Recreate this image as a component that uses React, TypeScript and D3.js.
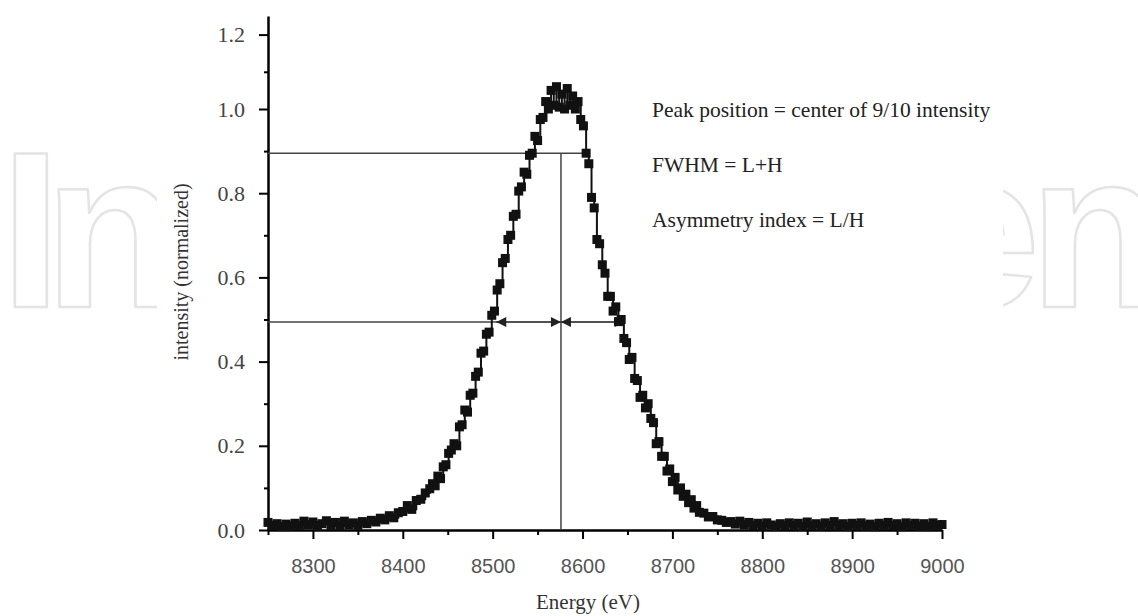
import React, { useEffect, useRef } from "react";
import * as d3 from "d3";

// energy (eV), normalized intensity
const peakData: [number, number][] = [
  [8250, 0.018], [8255, 0.010], [8260, 0.015], [8265, 0.008], [8270, 0.014],
  [8275, 0.009], [8280, 0.016], [8285, 0.011], [8290, 0.021], [8295, 0.012],
  [8300, 0.019], [8305, 0.009], [8310, 0.015], [8315, 0.022], [8320, 0.011],
  [8325, 0.018], [8330, 0.010], [8335, 0.021], [8340, 0.012], [8345, 0.017],
  [8350, 0.011], [8355, 0.020], [8360, 0.015], [8365, 0.023], [8370, 0.019],
  [8375, 0.028], [8380, 0.024], [8385, 0.034], [8390, 0.029], [8395, 0.041],
  [8400, 0.044], [8405, 0.058], [8410, 0.049], [8415, 0.07], [8420, 0.073],
  [8425, 0.088], [8430, 0.098],
  [8433, 0.11], [8436, 0.105], [8439, 0.128], [8442, 0.122], [8445, 0.15],
  [8448, 0.155], [8451, 0.182], [8454, 0.19], [8457, 0.205], [8460, 0.2],
  [8463, 0.245], [8466, 0.25], [8469, 0.285], [8472, 0.28], [8475, 0.32],
  [8478, 0.325], [8481, 0.365], [8484, 0.375], [8487, 0.42], [8490, 0.425],
  [8493, 0.465], [8496, 0.47], [8499, 0.51], [8502, 0.52], [8505, 0.57],
  [8508, 0.585], [8511, 0.635], [8514, 0.645], [8517, 0.69], [8520, 0.7],
  [8523, 0.745], [8526, 0.75], [8529, 0.805], [8532, 0.815], [8535, 0.85],
  [8538, 0.845], [8541, 0.89], [8544, 0.895], [8547, 0.935], [8550, 0.925],
  [8553, 0.975], [8556, 0.98], [8559, 1.02], [8562, 1.0], [8565, 1.05],
  [8568, 1.01], [8571, 1.06], [8574, 1.005], [8577, 1.04], [8580, 1.0],
  [8583, 1.055], [8586, 1.01], [8589, 1.035], [8592, 1.0], [8595, 1.02],
  [8598, 0.975], [8601, 0.96], [8604, 0.895], [8607, 0.87], [8610, 0.79],
  [8613, 0.765], [8616, 0.69], [8619, 0.68], [8622, 0.63], [8625, 0.61],
  [8628, 0.555], [8631, 0.555], [8634, 0.52], [8637, 0.53], [8640, 0.495],
  [8643, 0.5], [8646, 0.455], [8649, 0.445], [8652, 0.405], [8655, 0.41],
  [8658, 0.36], [8661, 0.355], [8664, 0.315], [8667, 0.32], [8670, 0.29],
  [8673, 0.3], [8676, 0.265], [8679, 0.255], [8682, 0.205], [8685, 0.21],
  [8688, 0.175], [8691, 0.175], [8694, 0.14], [8697, 0.145], [8700, 0.115],
  [8703, 0.125], [8706, 0.095], [8709, 0.1], [8712, 0.08], [8715, 0.085],
  [8718, 0.065], [8721, 0.072], [8724, 0.052], [8727, 0.058], [8730, 0.042],
  [8735, 0.04], [8740, 0.031], [8745, 0.032], [8750, 0.024], [8755, 0.023],
  [8760, 0.018], [8765, 0.02], [8770, 0.014], [8775, 0.021], [8780, 0.012],
  [8785, 0.018], [8790, 0.01], [8795, 0.016], [8800, 0.009], [8805, 0.017],
  [8810, 0.012], [8815, 0.008], [8820, 0.015], [8825, 0.01], [8830, 0.017],
  [8835, 0.011], [8840, 0.016], [8845, 0.008], [8850, 0.019], [8855, 0.011],
  [8860, 0.015], [8865, 0.009], [8870, 0.017], [8875, 0.011], [8880, 0.02],
  [8885, 0.01], [8890, 0.015], [8895, 0.008], [8900, 0.016], [8905, 0.011],
  [8910, 0.017], [8915, 0.009], [8920, 0.014], [8925, 0.008], [8930, 0.016],
  [8935, 0.011], [8940, 0.018], [8945, 0.01], [8950, 0.015], [8955, 0.008],
  [8960, 0.017], [8965, 0.011], [8970, 0.016], [8975, 0.009], [8980, 0.015],
  [8985, 0.008], [8990, 0.017], [8995, 0.011], [9000, 0.013],
];

const yTicks = [0, 0.2, 0.4, 0.6, 0.8, 1.0, 1.2];
const yMinorTicks = [0.1, 0.3, 0.5, 0.7, 0.9, 1.1];
const xTicks = [8300, 8400, 8500, 8600, 8700, 8800, 8900, 9000];
const xMinorTicks = [8250, 8350, 8450, 8550, 8650, 8750, 8850, 8950];

// guide lines
const ninetyLevel = 0.895;
const halfLevel = 0.494;
const peakCenter = 8576;
const ninetyRight = 8604;
const halfLeft = 8504;
const halfRight = 8647;

const notes = [
  "Peak position = center of 9/10 intensity",
  "FWHM = L+H",
  "Asymmetry index = L/H",
];

const W = 1138;
const H = 616;

const App = () => {
  const svgRef = useRef<SVGSVGElement>(null);

  useEffect(() => {
    const svg = d3.select(svgRef.current);
    svg.selectAll("*").remove();

    const x = d3.scaleLinear().domain([8250, 9000]).range([268, 942]);
    // the top of the printed axis is a bit squeezed
    const y = d3.scaleLinear().domain([0, 1.0, 1.25]).range([530, 109, 16]);

    // watermark, mostly hidden behind the figure
    const wm = svg
      .append("g")
      .attr("fill", "none")
      .attr("stroke", "#e4e4e4")
      .attr("stroke-width", 2.5)
      .attr("stroke-linejoin", "round")
      .style("font-family", "'Liberation Sans', Arial, sans-serif")
      .style("font-weight", 700)
      .style("font-size", "222px");
    [
      ["I", 0],
      ["n", 44],
      ["e", 917],
      ["n", 1029],
    ].forEach(([t, px]) => {
      wm.append("text").attr("x", px).attr("y", 307).text(t as string);
    });
    svg
      .append("rect")
      .attr("x", 157)
      .attr("y", 0)
      .attr("width", 1003 - 157)
      .attr("height", H)
      .attr("fill", "#fff");

    // y axis
    const yAxis = svg
      .append("g")
      .attr("transform", `translate(${x(8250)},0)`)
      .call(
        d3
          .axisLeft(y)
          .tickValues(yTicks)
          .tickSize(9)
          .tickSizeOuter(0)
          .tickPadding(14)
          .tickFormat(d3.format(".1f"))
      );
    yAxis.select(".domain").attr("stroke-width", 2.5);
    yAxis.selectAll(".tick line").attr("stroke-width", 2);
    yAxis
      .selectAll(".tick text")
      .attr("fill", "#444")
      .style("font-family", "'Liberation Serif', 'Times New Roman', serif")
      .style("font-size", "22px");
    svg
      .append("g")
      .attr("transform", `translate(${x(8250)},0)`)
      .call(d3.axisLeft(y).tickValues(yMinorTicks).tickSize(4).tickFormat(() => ""))
      .call((g) => g.select(".domain").remove())
      .selectAll(".tick line")
      .attr("stroke-width", 2);

    // x axis
    const xAxis = svg
      .append("g")
      .attr("transform", `translate(0,${y(0)})`)
      .call(
        d3
          .axisBottom(x)
          .tickValues(xTicks)
          .tickSize(9)
          .tickSizeOuter(0)
          .tickPadding(20)
          .tickFormat(d3.format("d"))
      );
    xAxis.select(".domain").attr("stroke-width", 2.5);
    xAxis.selectAll(".tick line").attr("stroke-width", 2);
    xAxis
      .selectAll(".tick text")
      .attr("fill", "#555")
      .style("font-family", "'Liberation Sans', Arial, sans-serif")
      .style("font-size", "20px");
    svg
      .append("g")
      .attr("transform", `translate(0,${y(0)})`)
      .call(d3.axisBottom(x).tickValues(xMinorTicks).tickSize(5).tickFormat(() => ""))
      .call((g) => g.select(".domain").remove())
      .selectAll(".tick line")
      .attr("stroke-width", 2);

    // axis titles
    svg
      .append("text")
      .attr("transform", `translate(188,${272}) rotate(-90)`)
      .attr("text-anchor", "middle")
      .attr("fill", "#333")
      .style("font-family", "'Liberation Serif', 'Times New Roman', serif")
      .style("font-size", "20px")
      .text("intensity (normalized)");
    svg
      .append("text")
      .attr("x", 588)
      .attr("y", 609)
      .attr("text-anchor", "middle")
      .attr("fill", "#333")
      .style("font-family", "'Liberation Serif', 'Times New Roman', serif")
      .style("font-size", "21px")
      .text("Energy (eV)");

    // guide lines
    const guides = svg.append("g").attr("stroke", "#444").attr("stroke-width", 1.5);
    guides
      .append("line")
      .attr("x1", x(8250))
      .attr("x2", x(ninetyRight))
      .attr("y1", y(ninetyLevel))
      .attr("y2", y(ninetyLevel));
    guides
      .append("line")
      .attr("x1", x(peakCenter))
      .attr("x2", x(peakCenter))
      .attr("y1", y(ninetyLevel))
      .attr("y2", y(0));
    guides
      .append("line")
      .attr("x1", x(8250))
      .attr("x2", x(halfRight))
      .attr("y1", y(halfLevel))
      .attr("y2", y(halfLevel));

    const defs = svg.append("defs");
    defs
      .append("marker")
      .attr("id", "arrowHead")
      .attr("viewBox", "0 0 10 10")
      .attr("refX", 10)
      .attr("refY", 5)
      .attr("markerWidth", 11)
      .attr("markerHeight", 10)
      .attr("markerUnits", "userSpaceOnUse")
      .attr("orient", "auto-start-reverse")
      .append("path")
      .attr("d", "M0,0L10,5L0,10Z")
      .attr("fill", "#222");

    [
      [halfLeft, peakCenter],
      [peakCenter, halfRight],
    ].forEach(([a, b]) => {
      guides
        .append("line")
        .attr("x1", x(a))
        .attr("x2", x(b))
        .attr("y1", y(halfLevel))
        .attr("y2", y(halfLevel))
        .attr("marker-start", "url(#arrowHead)")
        .attr("marker-end", "url(#arrowHead)");
    });

    // data: square markers joined by a thin line
    const line = d3
      .line<[number, number]>()
      .x((d) => x(d[0]))
      .y((d) => y(d[1]))
      .curve(d3.curveStepAfter);
    svg
      .append("path")
      .datum(peakData)
      .attr("d", line)
      .attr("fill", "none")
      .attr("stroke", "#111")
      .attr("stroke-width", 2);
    const sq = 9;
    svg
      .append("g")
      .selectAll("rect")
      .data(peakData)
      .enter()
      .append("rect")
      .attr("x", (d) => x(d[0]) - sq / 2)
      .attr("y", (d) => y(d[1]) - sq / 2)
      .attr("width", sq)
      .attr("height", sq)
      .attr("fill", "#111");

    // notes
    svg
      .append("g")
      .selectAll("text")
      .data(notes)
      .enter()
      .append("text")
      .attr("x", 652)
      .attr("y", (d, i) => 117 + i * 55)
      .attr("fill", "#222")
      .style("font-family", "'Liberation Serif', 'Times New Roman', serif")
      .style("font-size", "21.5px")
      .text((d) => d);
  }, []);

  return (
    <div style={{ position: "absolute", left: 0, top: 0, background: "#fff" }}>
      <svg ref={svgRef} width={W} height={H}></svg>
    </div>
  );
};

export default App;
